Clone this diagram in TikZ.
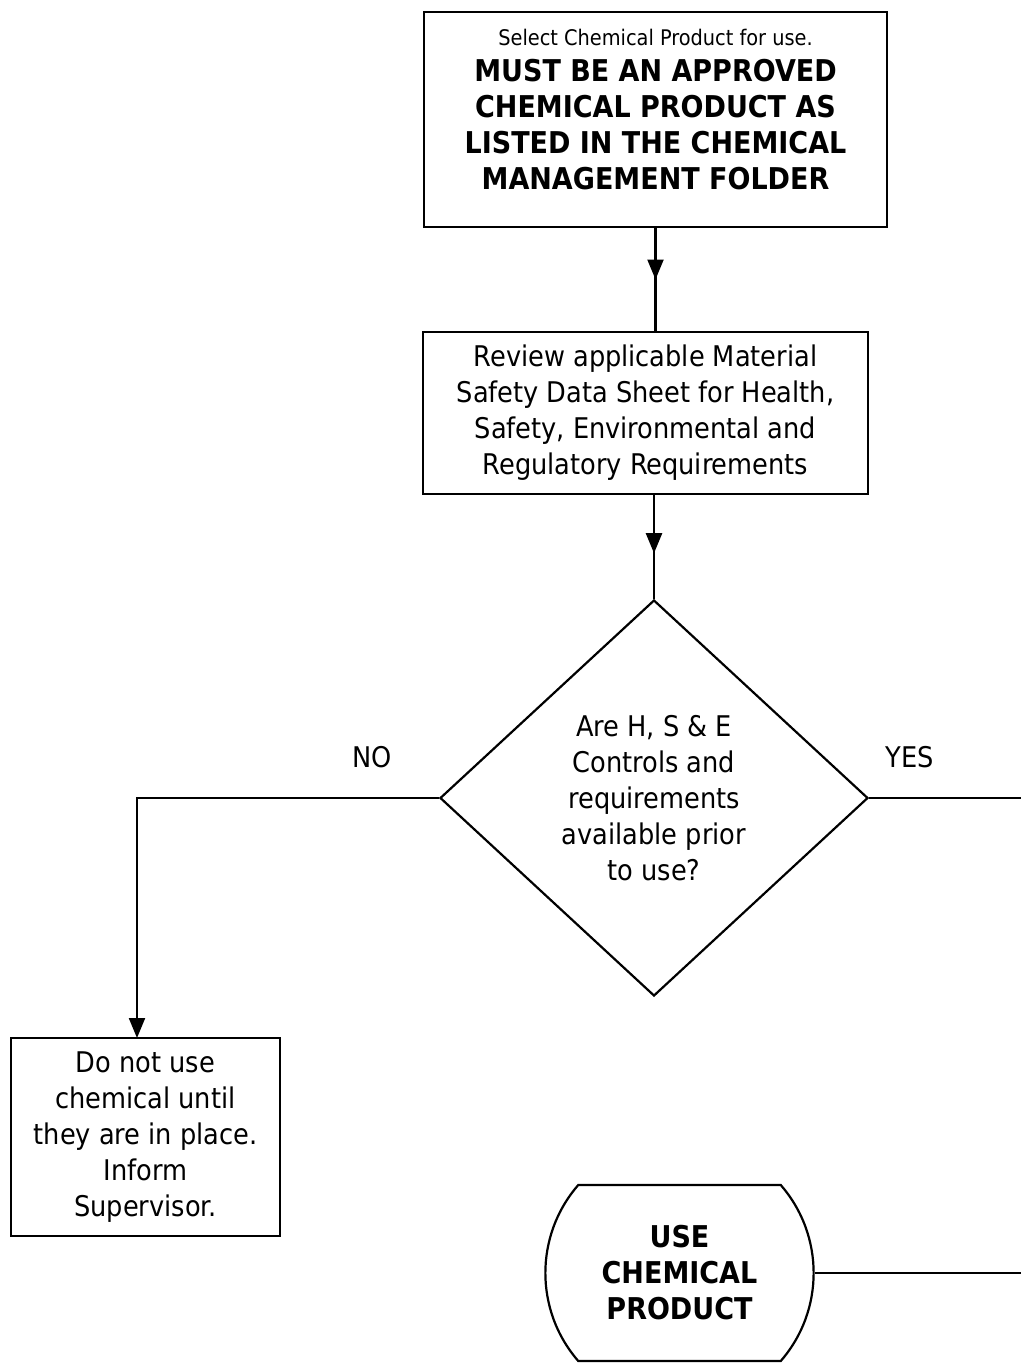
\documentclass[tikz,border=0pt]{standalone}
\usepackage{fontspec}
\setmainfont{DejaVu Sans Condensed}
\usetikzlibrary{arrows.meta,positioning,shapes.geometric,shapes.misc,decorations.markings}

\tikzset{
  box/.style={draw,line width=2.2pt,rectangle,align=center,inner sep=0pt},
  flow/.style={line width=2.2pt},
  midarrow/.style={flow,decoration={markings,
      mark=at position #1 with {\arrow{Triangle[length=20pt,width=16pt]}}},
      postaction=decorate},
  endarrow/.style={flow,-{Triangle[length=20pt,width=16pt]}},
  txt/.style={font=\fontsize{28.5}{36}\selectfont},
  bigtxt/.style={font=\fontsize{30}{36}\selectfont\bfseries}
}

\begin{document}
\begin{tikzpicture}[x=1pt,y=-1pt]
\useasboundingbox (0,0) rectangle (1021,1363);

% boxes
\node[box,bigtxt,minimum width=463pt,minimum height=215pt] (sel) at (655.5,119.5)
  {{\fontsize{21.5}{36}\selectfont\mdseries Select Chemical Product for use.}\\
   MUST BE AN APPROVED\\ CHEMICAL PRODUCT AS\\ LISTED IN THE CHEMICAL\\
   MANAGEMENT FOLDER\\[-16pt]\mbox{}};
\node[box,txt,minimum width=445pt,minimum height=162pt] (rev) at (645.5,413)
  {Review applicable Material\\ Safety Data Sheet for Health,\\
   Safety, Environmental and\\ Regulatory Requirements};
\node[draw,diamond,line width=2.2pt,txt,align=center,inner sep=0pt,
  minimum width=428pt,minimum height=396pt] (dec) at (654,798)
  {Are H, S \& E\\ Controls and\\ requirements\\ available prior\\ to use?};
\node[box,txt,minimum width=269pt,minimum height=198pt] (stop) at (145.5,1137)
  {Do not use\\ chemical until\\ they are in place.\\ Inform\\ Supervisor.};
\node[draw,rounded rectangle,rounded rectangle arc length=82,line width=2.2pt,
  bigtxt,align=center,inner sep=0pt,minimum width=265pt,minimum height=176pt]
  (use) at (679.5,1273) {USE\\ CHEMICAL\\ PRODUCT};

% labels
\node[txt] (no) at (372,757) {NO};
\node[txt] (yes) at (910,757) {YES};
\coordinate (noturn) at (137,1038);
\coordinate (rightedge) at (1021,0);

% connectors
\draw[midarrow=0.5] (sel.south) -- (rev.north -| sel.south);
\draw[midarrow=0.56] (rev.south -| dec.north) -- (dec.north);
\draw[endarrow] (dec.west) -| (noturn);
\draw[flow] (dec.east) -- (dec.east -| rightedge);
\draw[flow] (use.east) -- (use.east -| rightedge);
\end{tikzpicture}
\end{document}
